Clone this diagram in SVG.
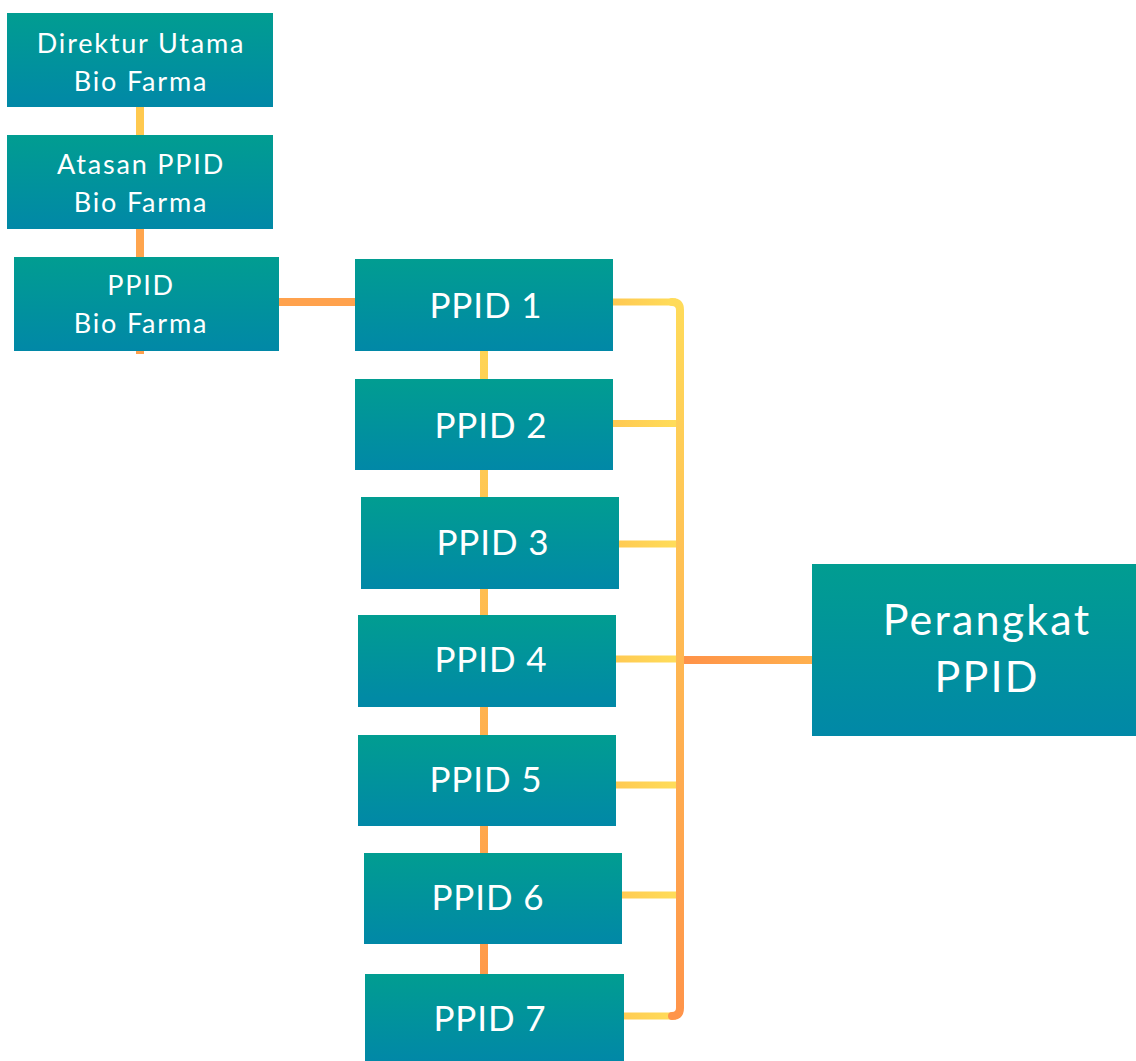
<svg xmlns="http://www.w3.org/2000/svg" width="1136" height="1061" viewBox="0 0 1136 1061">
<defs>
  <linearGradient id="boxg" x1="0" y1="0" x2="0" y2="1">
    <stop offset="0" stop-color="#019D91"/>
    <stop offset="1" stop-color="#0188A7"/>
  </linearGradient>
  <linearGradient id="midv" gradientUnits="userSpaceOnUse" x1="0" y1="351" x2="0" y2="974">
    <stop offset="0" stop-color="#FFD455"/>
    <stop offset="1" stop-color="#FF9A4A"/>
  </linearGradient>
  <linearGradient id="busv" gradientUnits="userSpaceOnUse" x1="0" y1="302" x2="0" y2="1016">
    <stop offset="0" stop-color="#FFDB5A"/>
    <stop offset="1" stop-color="#FF944A"/>
  </linearGradient>
  <linearGradient id="branch" gradientUnits="userSpaceOnUse" x1="611" y1="0" x2="680" y2="0">
    <stop offset="0" stop-color="#FFC852"/>
    <stop offset="1" stop-color="#FFDE5A"/>
  </linearGradient>
  <linearGradient id="perh" gradientUnits="userSpaceOnUse" x1="684" y1="0" x2="812" y2="0">
    <stop offset="0" stop-color="#FF9248"/>
    <stop offset="1" stop-color="#FFB04E"/>
  </linearGradient>
  <style>
    .box { fill: url(#boxg); }
    .t { fill: #FFFFFF; font-family: Lato, "Open Sans", "Liberation Sans", sans-serif; text-anchor: middle; }
    .s { font-size: 27px; letter-spacing: 1.8px; }
    .m { font-size: 35px; letter-spacing: 0.9px; }
    .l { font-size: 43px; letter-spacing: 2.2px; }
    .c { fill: none; stroke-width: 8; }
    .b { fill: none; stroke-width: 7; stroke: url(#branch); }
  </style>
</defs>
<rect width="1136" height="1061" fill="#FFFFFF"/>
<g id="connectors">
  <line class="c" x1="140" y1="105" x2="140" y2="137" stroke="#FFC94F"/>
  <line class="c" x1="140" y1="227" x2="140" y2="259" stroke="#FFA54D"/>
  <line class="c" x1="140" y1="349" x2="140" y2="354" stroke="#FFA04C"/>
  <line class="c" x1="277" y1="302" x2="357" y2="302" stroke="#FFA24D" stroke-width="7"/>
  <line class="c" x1="484" y1="349" x2="484" y2="976" stroke="url(#midv)"/>
  <path class="b" d="M611,302 H676"/>
  <path class="b" d="M611,423.5 H680"/>
  <path class="b" d="M617,544 H680"/>
  <path class="b" d="M614,659 H680"/>
  <path class="b" d="M614,785 H680"/>
  <path class="b" d="M620,895 H680"/>
  <path class="b" d="M622,1016 H676"/>
  <path class="c" d="M672,302 Q680,302 680,310 V1008 Q680,1016 672,1016" stroke="url(#busv)" stroke-linecap="round"/>
  <line class="c" x1="684" y1="660" x2="814" y2="660" stroke="url(#perh)" stroke-width="7"/>
</g>
<g id="node-direktur">
  <rect class="box" x="7" y="13" width="266" height="94"/>
  <text class="t s" x="141" y="53">Direktur Utama</text>
  <text class="t s" x="141" y="91">Bio Farma</text>
</g>
<g id="node-atasan">
  <rect class="box" x="7" y="135" width="266" height="94"/>
  <text class="t s" x="141" y="174">Atasan PPID</text>
  <text class="t s" x="141" y="212">Bio Farma</text>
</g>
<g id="node-ppid-bf">
  <rect class="box" x="14" y="257" width="265" height="94"/>
  <text class="t s" x="141" y="295">PPID</text>
  <text class="t s" x="141" y="333">Bio Farma</text>
</g>
<g id="node-ppid1">
  <rect class="box" x="355" y="259" width="258" height="92"/>
  <text class="t m" x="486" y="318">PPID 1</text>
</g>
<g id="node-ppid2">
  <rect class="box" x="355" y="379" width="258" height="91"/>
  <text class="t m" x="491" y="438">PPID 2</text>
</g>
<g id="node-ppid3">
  <rect class="box" x="361" y="497" width="258" height="92"/>
  <text class="t m" x="493" y="555">PPID 3</text>
</g>
<g id="node-ppid4">
  <rect class="box" x="358" y="615" width="258" height="92"/>
  <text class="t m" x="491" y="672">PPID 4</text>
</g>
<g id="node-ppid5">
  <rect class="box" x="358" y="735" width="258" height="91"/>
  <text class="t m" x="486" y="792">PPID 5</text>
</g>
<g id="node-ppid6">
  <rect class="box" x="364" y="853" width="258" height="91"/>
  <text class="t m" x="488" y="910">PPID 6</text>
</g>
<g id="node-ppid7">
  <rect class="box" x="365" y="974" width="259" height="87"/>
  <text class="t m" x="490" y="1031">PPID 7</text>
</g>
<g id="node-perangkat">
  <rect class="box" x="812" y="564" width="324" height="172"/>
  <text class="t l" x="987" y="635">Perangkat</text>
  <text class="t l" x="987" y="692">PPID</text>
</g>
</svg>
